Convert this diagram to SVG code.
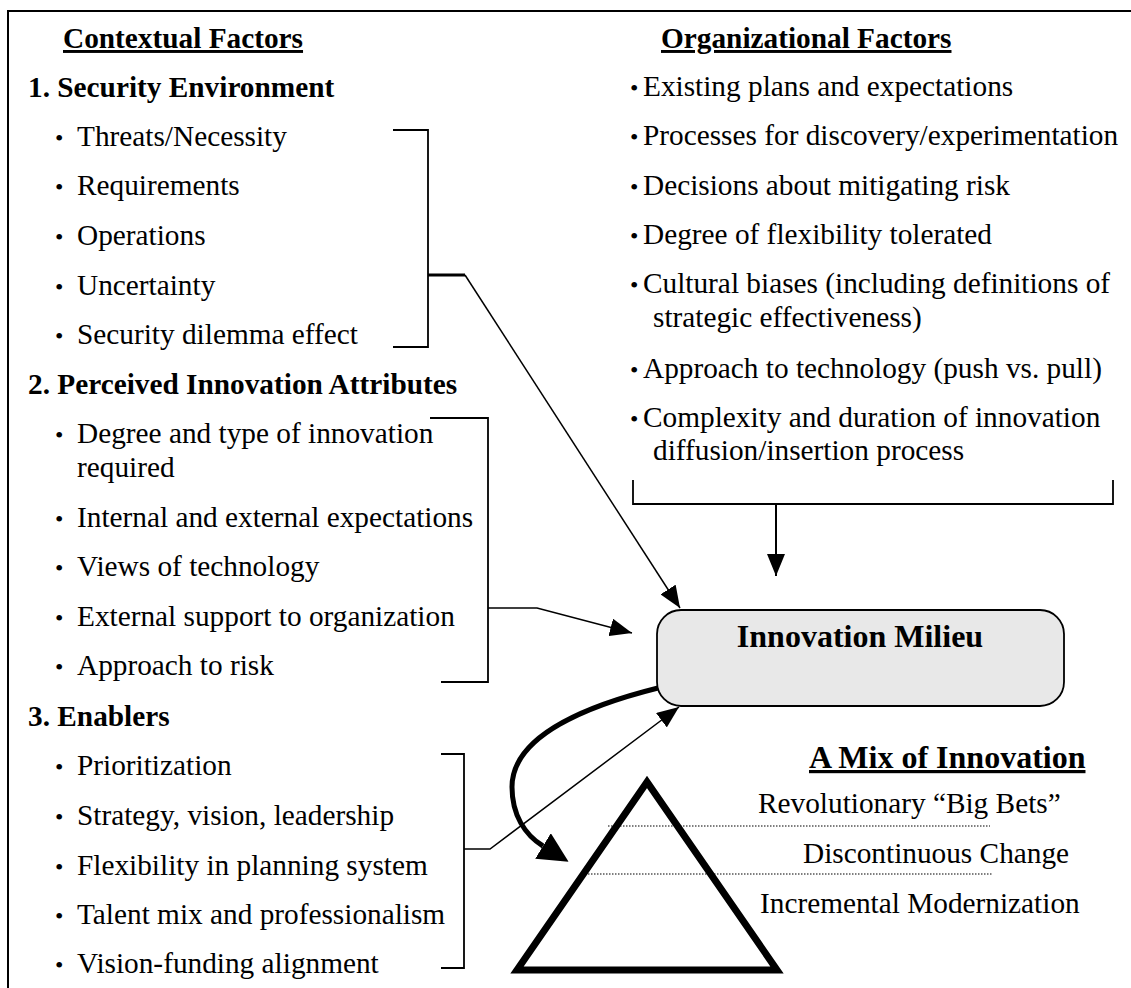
<svg xmlns="http://www.w3.org/2000/svg" width="1131" height="988" viewBox="0 0 1131 988">
<style>
  text { font-family: "Liberation Serif", "Times New Roman", serif; fill: #000; }
  .h { font-size: 29.3px; font-weight: bold; }
  .t { font-size: 29.3px; }
  .b { font-size: 24px; }
  .u { text-decoration: underline; }
  .br { fill: none; stroke: #000; stroke-width: 1.8; }
  .cn { fill: none; stroke: #000; stroke-width: 1.5; }
</style>
<defs>
  <marker id="ah" viewBox="0 0 22 18" refX="22" refY="9" markerWidth="22" markerHeight="18" markerUnits="userSpaceOnUse" orient="auto">
    <path d="M0,0 L22,9 L0,18 z" fill="#000"/>
  </marker>
  <marker id="big" viewBox="0 0 30 30" refX="0" refY="15" markerWidth="30" markerHeight="30" markerUnits="userSpaceOnUse" orient="auto">
    <path d="M0,0 L30,15 L0,30 z" fill="#000"/>
  </marker>
</defs>

<g id="frame">
  <path d="M8,988 L8,11 L1131,11" fill="none" stroke="#000" stroke-width="2"/>
</g>

<g id="contextual">
  <text class="h u" x="63" y="48">Contextual Factors</text>
</g>

<g id="security-environment">
  <text class="h" x="28" y="97">1. Security Environment</text>
  <text class="b" x="55" y="146">•</text><text class="t" x="77" y="146">Threats/Necessity</text>
  <text class="b" x="55" y="195">•</text><text class="t" x="77" y="195">Requirements</text>
  <text class="b" x="55" y="245">•</text><text class="t" x="77" y="245">Operations</text>
  <text class="b" x="55" y="295">•</text><text class="t" x="77" y="295">Uncertainty</text>
  <text class="b" x="55" y="344">•</text><text class="t" x="77" y="344">Security dilemma effect</text>
  <path class="br" d="M393,130 L428,130 L428,347 L393,347"/>
</g>

<g id="perceived-attributes">
  <text class="h" x="28" y="394">2. Perceived Innovation Attributes</text>
  <text class="b" x="55" y="443">•</text><text class="t" x="77" y="443">Degree and type of innovation</text>
  <text class="t" x="77" y="477">required</text>
  <text class="b" x="55" y="527">•</text><text class="t" x="77" y="527">Internal and external expectations</text>
  <text class="b" x="55" y="576">•</text><text class="t" x="77" y="576">Views of technology</text>
  <text class="b" x="55" y="626">•</text><text class="t" x="77" y="626">External support to organization</text>
  <text class="b" x="55" y="675">•</text><text class="t" x="77" y="675">Approach to risk</text>
  <path class="br" d="M430,418 L488,418 L488,682 L441,682"/>
</g>

<g id="enablers">
  <text class="h" x="28" y="726">3. Enablers</text>
  <text class="b" x="55" y="775">•</text><text class="t" x="77" y="775">Prioritization</text>
  <text class="b" x="55" y="825">•</text><text class="t" x="77" y="825">Strategy, vision, leadership</text>
  <text class="b" x="55" y="875">•</text><text class="t" x="77" y="875">Flexibility in planning system</text>
  <text class="b" x="55" y="924">•</text><text class="t" x="77" y="924">Talent mix and professionalism</text>
  <text class="b" x="55" y="973">•</text><text class="t" x="77" y="973">Vision-funding alignment</text>
  <path class="br" d="M441,754 L464,754 L464,968 L441,968"/>
</g>

<g id="organizational">
  <text class="h u" x="661" y="48">Organizational Factors</text>
  <text class="b" x="630" y="96">•</text><text class="t" x="643" y="96">Existing plans and expectations</text>
  <text class="b" x="630" y="145">•</text><text class="t" x="643" y="145">Processes for discovery/experimentation</text>
  <text class="b" x="630" y="195">•</text><text class="t" x="643" y="195">Decisions about mitigating risk</text>
  <text class="b" x="630" y="244">•</text><text class="t" x="643" y="244">Degree of flexibility tolerated</text>
  <text class="b" x="630" y="293">•</text><text class="t" x="643" y="293">Cultural biases (including definitions of</text>
  <text class="t" x="653" y="327">strategic effectiveness)</text>
  <text class="b" x="630" y="378">•</text><text class="t" x="643" y="378">Approach to technology (push vs. pull)</text>
  <text class="b" x="630" y="427">•</text><text class="t" x="643" y="427">Complexity and duration of innovation</text>
  <text class="t" x="653" y="460">diffusion/insertion process</text>
  <path class="br" d="M633,480 L633,504 L1113,504 L1113,480"/>
</g>

<g id="innovation-milieu">
  <rect x="657" y="610" width="407" height="96" rx="24" ry="24" fill="#e8e8e8" stroke="#000" stroke-width="1.8"/>
  <text x="860" y="647" text-anchor="middle" style="font-size:32px;font-weight:bold">Innovation Milieu</text>
</g>

<g id="mix-of-innovation">
  <text x="809" y="768" class="u" style="font-size:32px;font-weight:bold">A Mix of Innovation</text>
  <polygon points="647,782 517,970 777,970" fill="none" stroke="#000" stroke-width="7" stroke-linejoin="miter"/>
  <line x1="608" y1="826" x2="990" y2="826" stroke="#000" stroke-width="1.2" stroke-dasharray="1.5,1.5"/>
  <line x1="582" y1="874" x2="993" y2="874" stroke="#000" stroke-width="1.2" stroke-dasharray="1.5,1.5"/>
  <text class="t" x="758" y="813">Revolutionary “Big Bets”</text>
  <text class="t" x="803" y="863">Discontinuous Change</text>
  <text class="t" x="760" y="913">Incremental Modernization</text>
</g>

<g id="connectors">
  <line x1="428" y1="275" x2="465" y2="275" stroke="#000" stroke-width="3"/>
  <path class="cn" d="M465,275 L680,608" marker-end="url(#ah)"/>
  <path class="cn" d="M488,608 L537,608 L632,633" marker-end="url(#ah)"/>
  <path class="cn" d="M464,849 L490,849 L679,707" marker-end="url(#ah)"/>
  <path d="M776,504 L776,576" fill="none" stroke="#000" stroke-width="2" marker-end="url(#ah)"/>
  <path d="M658,688 C590,705 512,735 512,787 C512,815 525,835 543,846" fill="none" stroke="#000" stroke-width="5" marker-end="url(#big)"/>
</g>
</svg>
